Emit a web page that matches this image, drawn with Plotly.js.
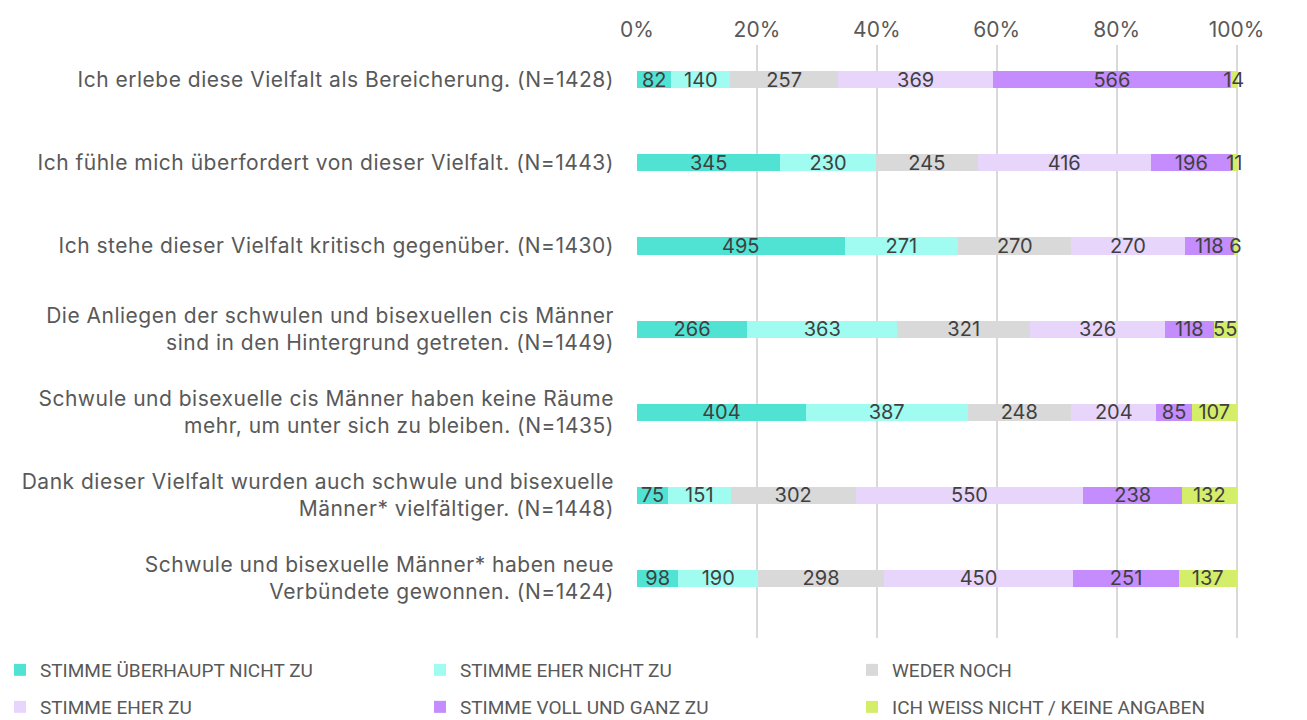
<!DOCTYPE html>
<html>
<head>
<meta charset="utf-8">
<script src="https://cdn.plot.ly/plotly-3.0.1.min.js"></script>
<style>
html,body{margin:0;padding:0;background:#fff;}
#chart{width:1307px;height:720px;}
#chart .ytick text{letter-spacing:0.5px;}
</style>
</head>
<body>
<div id="chart"></div>
<script>
const categories = [
  "Ich erlebe diese Vielfalt als Bereicherung. (N=1428)",
  "Ich fühle mich überfordert von dieser Vielfalt. (N=1443)",
  "Ich stehe dieser Vielfalt kritisch gegenüber. (N=1430)",
  "Die Anliegen der schwulen und bisexuellen cis Männer<br>sind in den Hintergrund getreten. (N=1449)",
  "Schwule und bisexuelle cis Männer haben keine Räume<br>mehr, um unter sich zu bleiben. (N=1435)",
  "Dank dieser Vielfalt wurden auch schwule und bisexuelle<br>Männer* vielfältiger. (N=1448)",
  "Schwule und bisexuelle Männer* haben neue<br>Verbündete gewonnen. (N=1424)"
];
const seriesNames = [
  "STIMME ÜBERHAUPT NICHT ZU",
  "STIMME EHER NICHT ZU",
  "WEDER NOCH",
  "STIMME EHER ZU",
  "STIMME VOLL UND GANZ ZU",
  "ICH WEISS NICHT / KEINE ANGABEN"
];
const stimmeUeberhauptNicht = [82, 345, 495, 266, 404, 75, 98];
const stimmeEherNicht       = [140, 230, 271, 363, 387, 151, 190];
const wederNoch             = [257, 245, 270, 321, 248, 302, 298];
const stimmeEherZu          = [369, 416, 270, 326, 204, 550, 450];
const stimmeVollUndGanz     = [566, 196, 118, 118, 85, 238, 251];
const weissNicht            = [14, 11, 6, 55, 107, 132, 137];
const seriesValues = [stimmeUeberhauptNicht, stimmeEherNicht, wederNoch, stimmeEherZu, stimmeVollUndGanz, weissNicht];
const colors = ["#50E3D4", "#A0FCF0", "#D9D9D9", "#E8D5FC", "#C48CFC", "#D4EE6A"];
const tickVals = [0, 20, 40, 60, 80, 100];
const tickText = ["0%", "20%", "40%", "60%", "80%", "100%"];

const FONT = "Inter, 'Noto Sans', sans-serif";
const LEGEND_FONT = "Roboto, Inter, sans-serif";
const legendIds = ["legend", "legend2", "legend3", "legend4", "legend5", "legend6"];

const traces = seriesValues.map((vals, i) => ({
  type: "bar",
  orientation: "h",
  name: seriesNames[i],
  y: categories,
  x: vals,
  text: vals.map(String),
  texttemplate: "%{text}",
  textposition: "inside",
  insidetextanchor: "middle",
  textangle: 0,
  constraintext: "none",
  cliponaxis: false,
  textfont: {family: FONT, size: 20, color: "#404040"},
  marker: {color: colors[i], line: {width: 0}},
  legend: legendIds[i],
  hoverinfo: "skip"
}));

const colX = [20, 440, 872];
const rowY = [670, 707];
const layout = {
  width: 1307, height: 720,
  margin: {l: 637, r: 68, t: 45, b: 82},
  paper_bgcolor: "#ffffff", plot_bgcolor: "#ffffff",
  barmode: "stack", barnorm: "percent", bargap: 0.795,
  font: {family: FONT, color: "#595959"},
  showlegend: true,
  xaxis: {
    side: "top", range: [0, 100.4], tickvals: tickVals, ticktext: tickText,
    showgrid: true, gridcolor: "#D9D9D9", gridwidth: 2,
    zeroline: false, showline: false, ticks: "", ticklabelstandoff: 3,
    tickfont: {family: FONT, size: 21, color: "#595959"},
    automargin: false, fixedrange: true
  },
  yaxis: {
    range: [6.72, -0.42], showgrid: false, zeroline: false, showline: false,
    ticks: "", ticklen: 0, ticklabelstandoff: 22,
    tickfont: {family: FONT, size: 21, color: "#595959"},
    automargin: false, fixedrange: true
  }
};
legendIds.forEach((id, i) => {
  layout[id] = {
    orientation: "h",
    xref: "container", yref: "container",
    x: (colX[i % 3] - 20) / 1307, xanchor: "left",
    y: 1 - rowY[Math.floor(i / 3)] / 720, yanchor: "middle",
    font: {family: LEGEND_FONT, size: 19, color: "#595959"},
    bgcolor: "rgba(0,0,0,0)", borderwidth: 0
  };
});

Plotly.newPlot("chart", traces, layout, {displayModeBar: false, staticPlot: true});
</script>
</body>
</html>
